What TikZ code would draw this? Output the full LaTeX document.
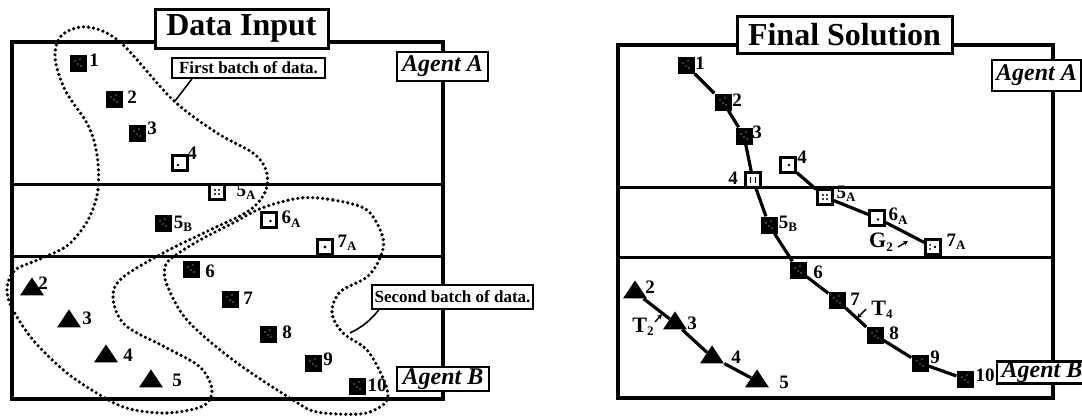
\documentclass[tikz,border=0pt]{standalone}
\usepackage{fontspec}
\setmainfont{Liberation Serif}
\usetikzlibrary{shapes.geometric,arrows.meta}
\newcommand{\lsub}[1]{\raisebox{-3.5pt}{\fontsize{13}{13}\selectfont #1}}
\tikzset{
  panel/.style={line width=3.6pt},
  divider/.style={line width=3pt},
  loopline/.style={line width=3.6pt, line cap=round, dash pattern=on 0pt off 5pt},
  chain/.style={line width=3.2pt},
  fsq/.style={fill=black, inner sep=0, minimum size=17pt,
    path picture={\foreach \dx/\dy in {-3/2,2/4,0/-1,3/-3}
      \fill[white] (path picture bounding box.center) ++(\dx pt,\dy pt) circle (0.6pt);}},
  osq/.style={draw, fill=white, line width=2.6pt, inner sep=0, minimum size=15pt},
  tri/.style={isosceles triangle, isosceles triangle stretches, shape border rotate=90,
    fill=black, inner sep=0, minimum width=24pt, minimum height=18pt},
  num/.style={font=\bfseries\fontsize{19}{19}\selectfont, inner sep=0},
  title/.style={draw, fill=white, line width=3pt, inner sep=0, font=\bfseries\fontsize{32}{32}\selectfont},
  agent/.style={draw, fill=white, line width=2.4pt, inner sep=0, font=\bfseries\itshape\fontsize{24}{24}\selectfont},
  callout/.style={draw, fill=white, line width=2pt, inner sep=0, font=\bfseries\fontsize{17}{17}\selectfont},
  small arrow/.style={line width=1.4pt, -{Stealth[length=5pt,width=5pt]}}
}
\begin{document}
\begin{tikzpicture}[x=1pt,y=-1pt]
\useasboundingbox (0,0) rectangle (1082,418);

% ---------------- Left panel: Data Input ----------------
\draw[panel] (12,42) rectangle (443,399);
\draw[divider] (12,184) -- (443,184);
\draw[divider] (12,256) -- (443,256);

% dotted loops
\draw[loopline] plot[smooth cycle, tension=0.55] coordinates {
 (87,27) (120,42) (173,100) (217,133) (253,153) (266,170) (266,190) (250,210)
 (210,230) (165,252) (122,278) (113,298) (125,325) (165,347) (200,367) (212,390)
 (203,406) (167,413) (130,409) (105,398) (67,373) (33,340) (12,308) (7,288)
 (15,270) (40,259) (68,245) (88,220) (98,190) (97,155) (88,125) (65,90) (55,57) (62,35)};
\draw[loopline] plot[smooth cycle, tension=0.55] coordinates {
 (300,198) (333,200) (367,210) (383,238) (380,258) (367,277) (340,292) (332,313)
 (343,333) (367,350) (383,378) (388,397) (380,407) (360,414) (317,412) (293,400)
 (233,360) (187,320) (167,285) (165,267) (173,257) (200,240) (233,223) (262,208)};

\node[title, minimum width=173pt, minimum height=39pt] (tL) at (241.5,28.5) {Data Input};
\node[agent, minimum width=91pt, minimum height=29pt] (aAL) at (442.5,66.5) {Agent A};
\node[agent, minimum width=92pt, minimum height=24pt] (aBL) at (443,379) {Agent B};

\node[callout, minimum width=153pt, minimum height=20pt] (fb) at (248.5,68) {First batch of data.};
\coordinate (fbtip) at (175,101);
\draw[line width=1.6pt] (fb.191) -- (fbtip);
\node[callout, minimum width=161pt, minimum height=24pt] (sb) at (452.5,297) {Second batch of data.};
\coordinate (sbtip) at (350,333);
\draw[line width=1.6pt] (sb.190) to[bend left=12] (sbtip);

% squares
\node[fsq] (l1) at (78,63) {};
\node[fsq] (l2) at (114,99) {};
\node[fsq] (l3) at (137,133) {};
\node[osq] (l4) at (180,163) {};
\fill (l4.center) ++(-2pt,-2pt) circle (1.3pt);
\node[osq] (l5A) at (217,192) {};
\fill (l5A.center) ++(-2pt,2pt) circle (1.1pt) ++(4pt,0) circle (1.1pt) ++(0,-4pt) circle (1.1pt) ++(-4pt,0) circle (1.1pt);
\node[fsq] (l5B) at (163,223) {};
\node[osq] (l6A) at (269,220) {};
\fill (l6A.center) ++(1.5pt,-1pt) circle (1.3pt);
\node[osq] (l7A) at (325,247) {};
\fill (l7A.center) circle (1.6pt);
\node[fsq] (l6) at (191,269) {};
\node[fsq] (l7) at (230,299) {};
\node[fsq] (l8) at (268,334) {};
\node[fsq] (l9) at (313,363) {};
\node[fsq] (l10) at (357,386) {};
% triangles
\node[tri] (lt2) at (32,289) {};
\node[tri] (lt3) at (69,321) {};
\node[tri] (lt4) at (106,356) {};
\node[tri] (lt5) at (151,381) {};

% labels
\node[num] at (94,60) {1};
\node[num] at (132,97) {2};
\node[num] at (152,128) {3};
\node[num] at (192,153) {4};
\node[num] at (246,192) {5\lsub{A}};
\node[num] at (183,224) {5\lsub{B}};
\node[num] at (291,219) {6\lsub{A}};
\node[num] at (347,243) {7\lsub{A}};
\node[num] at (210,271) {6};
\node[num] at (248,298) {7};
\node[num] at (287,332) {8};
\node[num] at (328,359) {9};
\node[num] at (377,385) {10};
\node[num] at (43,283) {2};
\node[num] at (87,318) {3};
\node[num] at (128,355) {4};
\node[num] at (177,380) {5};

% ---------------- Right panel: Final Solution ----------------
\draw[panel] (618,45) rectangle (1053,398);
\draw[divider] (618,187) -- (1053,187);
\draw[divider] (618,257) -- (1053,257);

\node[title, minimum width=215pt, minimum height=37pt] (tR) at (844.5,34.5) {Final Solution};
\node[agent, minimum width=89pt, minimum height=31pt] (aAR) at (1036.5,75.5) {Agent A};
\node[agent, minimum width=90pt, minimum height=22pt] (aBR) at (1042,372.5) {Agent B};

% nodes
\node[fsq] (r1) at (686,65) {};
\node[fsq] (r2) at (723,102) {};
\node[fsq] (r3) at (744,136) {};
\node[osq] (r4) at (753,180) {};
\node[osq] (r4a) at (788,165) {};
\node[osq] (r5A) at (825,197) {};
\node[fsq] (r5B) at (769,225) {};
\node[osq] (r6A) at (877,218) {};
\node[osq] (r7A) at (933,247) {};
\node[fsq] (r6) at (798,270) {};
\node[fsq] (r7) at (837,300) {};
\node[fsq] (r8) at (875,335) {};
\node[fsq] (r9) at (920,363) {};
\node[fsq] (r10) at (965,379) {};
\node[tri] (rt2) at (635,292) {};
\node[tri] (rt3) at (675,323) {};
\node[tri] (rt4) at (712,357) {};
\node[tri] (rt5) at (757,381) {};

% chains
\draw[chain] (r1) -- (r2) -- (r3) -- (r4) -- (r5B) -- (r6) -- (r7) -- (r8) -- (r9) -- (r10);
\draw[chain] (r4a) -- (r5A) -- (r6A) -- (r7A);
\draw[chain] (rt2) -- (rt3) -- (rt4) -- (rt5);

% details in open squares
\draw[line width=1.2pt] (r4.center) ++(-2.5pt,-3pt) -- ++(0,6pt) (r4.center) ++(2.5pt,-3pt) -- ++(0,6pt);
\fill (r4a.center) ++(1pt,0) circle (1.4pt);
\fill (r5A.center) ++(-2pt,2pt) circle (1.1pt) ++(4pt,0) circle (1.1pt) ++(0,-4pt) circle (1.1pt) ++(-4pt,0) circle (1.1pt);
\fill (r6A.center) ++(1pt,-1.5pt) circle (1.3pt);
\fill (r7A.center) ++(2pt,0) circle (1.3pt) (r7A.center) ++(-3pt,2pt) circle (1pt) (r7A.center) ++(-3pt,-2pt) circle (1pt);

% labels
\node[num] at (700,63) {1};
\node[num] at (737,100) {2};
\node[num] at (757,132) {3};
\node[num] at (733,178) {4};
\node[num] at (802,157) {4};
\node[num] at (846,194) {5\lsub{A}};
\node[num] at (788,224) {5\lsub{B}};
\node[num] at (898,216) {6\lsub{A}};
\node[num] at (956,242) {7\lsub{A}};
\node[num] at (818,272) {6};
\node[num] at (855,299) {7};
\node[num] at (894,333) {8};
\node[num] at (935,357) {9};
\node[num] at (985,375) {10};
\node[num] at (650,287) {2};
\node[num] at (692,323) {3};
\node[num] at (736,357) {4};
\node[num] at (784,382) {5};

\node[num, font=\bfseries\fontsize{22}{22}\selectfont] (g2) at (881,242) {G\lsub{2}};
\coordinate (g2tip) at (908,241);
\draw[small arrow] (898,247) -- (g2tip);
\node[num, font=\bfseries\fontsize{22}{22}\selectfont] (t4) at (882,310) {T\lsub{4}};
\coordinate (t4tip) at (857,318);
\draw[small arrow] (866,309) -- (t4tip);
\node[num, font=\bfseries\fontsize{22}{22}\selectfont] (t2) at (643,327) {T\lsub{2}};
\coordinate (t2tip) at (662,314);
\draw[small arrow] (655,322) -- (t2tip);
\end{tikzpicture}
\end{document}
